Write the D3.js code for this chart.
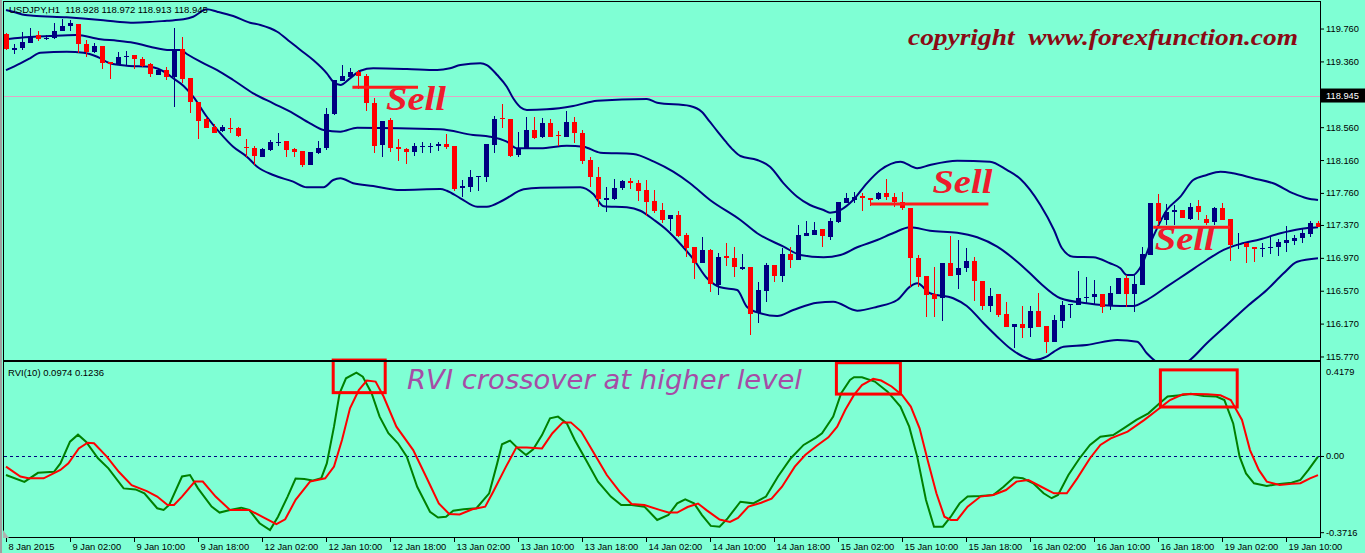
<!DOCTYPE html>
<html><head><meta charset="utf-8">
<script src="https://cdn.jsdelivr.net/npm/d3@7"></script>
<style>body{margin:0;background:#7fffd4;overflow:hidden} svg{display:block}</style>
</head><body><svg id="c" width="1365" height="553"></svg>
<script>
// ---------- DATA ----------
const opens=[119.693,119.499,119.519,119.588,119.681,119.636,119.641,119.734,119.794,119.815,
119.572,119.471,119.547,119.349,119.316,119.417,119.438,119.386,119.328,119.195,
119.255,119.174,119.507,119.162,118.863,118.659,118.566,118.517,118.554,118.554,
118.322,118.310,118.201,118.282,118.371,118.392,118.291,118.270,118.100,118.249,
118.303,118.717,119.125,119.167,119.235,119.182,118.850,118.343,118.647,118.319,
118.294,118.262,118.319,118.327,118.335,118.355,118.331,117.816,117.829,117.950,
117.957,118.343,118.675,118.659,118.221,118.303,118.526,118.437,118.607,118.465,
118.444,118.619,118.485,118.161,117.950,117.683,117.686,117.816,117.905,117.877,
117.796,117.662,117.552,117.439,117.491,117.248,117.099,116.911,117.066,116.640,
116.993,116.965,116.838,116.863,116.303,116.571,116.883,116.749,117.017,116.944,
117.236,117.248,117.318,117.228,117.410,117.641,117.674,117.723,117.695,117.683,
117.755,117.714,117.653,117.573,116.965,116.749,116.530,116.478,116.904,116.762,
116.843,116.932,116.692,116.388,116.527,116.287,116.125,116.166,116.113,116.324,
116.141,115.950,116.206,116.393,116.397,116.482,116.490,116.530,116.385,116.530,
116.729,116.530,116.640,117.005,117.634,117.431,117.528,117.552,117.443,117.601,
117.439,117.410,117.573,117.439,117.127,117.147,117.099,117.074,117.086,117.099,
117.147,117.179,117.208,117.260,117.398];
const highs=[119.706,119.572,119.718,119.766,119.730,119.681,119.824,119.872,119.864,119.815,
119.620,119.580,119.547,119.349,119.478,119.487,119.438,119.417,119.344,119.276,
119.296,119.763,119.661,119.162,118.863,118.687,118.599,118.586,118.668,118.566,
118.412,118.331,118.303,118.404,118.493,118.392,118.303,118.270,118.262,118.395,
118.797,119.134,119.316,119.276,119.255,119.207,118.911,118.639,118.668,118.412,
118.303,118.364,118.383,118.364,118.383,118.477,118.331,117.917,118.039,117.966,
118.355,118.696,118.842,118.659,118.505,118.680,118.680,118.668,118.659,118.513,
118.757,118.680,118.526,118.193,118.079,117.829,117.926,117.917,117.938,117.917,
117.917,117.796,117.634,117.491,117.544,117.273,117.102,117.220,117.078,117.029,
117.147,117.099,117.017,116.863,116.673,116.904,116.883,117.086,117.106,117.370,
117.419,117.410,117.318,117.451,117.653,117.755,117.775,117.755,117.695,117.775,
117.926,117.763,117.775,117.573,117.005,116.749,116.855,116.904,117.236,117.187,
117.086,116.984,116.692,116.600,116.527,116.437,116.166,116.385,116.385,116.539,
116.141,116.275,116.449,116.409,116.810,116.741,116.701,116.530,116.628,116.729,
116.762,116.770,117.106,117.634,117.747,117.625,117.613,117.552,117.641,117.674,
117.491,117.593,117.641,117.439,117.276,117.147,117.099,117.155,117.220,117.196,
117.358,117.248,117.318,117.422,117.422];
const lows=[119.499,119.450,119.499,119.584,119.612,119.620,119.633,119.734,119.734,119.459,
119.410,119.459,119.264,119.146,119.316,119.308,119.268,119.296,119.167,119.195,
119.134,118.809,119.094,118.729,118.412,118.546,118.485,118.505,118.493,118.444,
118.201,118.100,118.193,118.274,118.331,118.201,118.201,118.079,118.100,118.234,
118.282,118.708,119.125,119.167,119.021,118.760,118.242,118.201,118.262,118.152,
118.108,118.213,118.242,118.249,118.274,118.291,117.787,117.714,117.775,117.787,
117.897,118.249,118.546,118.201,118.193,118.303,118.412,118.425,118.444,118.335,
118.444,118.371,118.112,117.836,117.585,117.524,117.674,117.796,117.808,117.662,
117.479,117.512,117.398,117.300,117.224,116.981,116.717,116.908,116.555,116.518,
116.871,116.737,116.822,116.032,116.181,116.437,116.680,116.680,116.843,116.944,
117.236,117.248,117.106,117.187,117.398,117.641,117.634,117.544,117.601,117.674,
117.674,117.593,117.552,116.619,116.619,116.254,116.254,116.206,116.749,116.588,
116.802,116.449,116.336,116.315,116.254,116.125,115.870,115.992,116.004,116.133,
115.816,115.950,116.113,116.235,116.397,116.409,116.409,116.296,116.336,116.530,
116.376,116.315,116.640,117.005,117.370,117.370,117.370,117.451,117.431,117.431,
117.370,117.370,117.431,116.936,117.074,116.904,116.923,116.981,117.017,116.993,
117.045,117.127,117.147,117.220,117.342];
const closes=[119.511,119.523,119.600,119.673,119.633,119.648,119.730,119.794,119.824,119.568,
119.478,119.547,119.337,119.325,119.417,119.429,119.389,119.308,119.207,119.255,
119.174,119.499,119.146,118.863,118.639,118.546,118.493,118.558,118.538,118.452,
118.303,118.213,118.291,118.383,118.383,118.282,118.254,118.100,118.254,118.303,
118.717,119.134,119.182,119.235,119.182,118.850,118.335,118.639,118.310,118.291,
118.262,118.331,118.331,118.335,118.355,118.322,117.808,117.844,117.950,117.966,
118.355,118.659,118.656,118.213,118.310,118.526,118.432,118.607,118.444,118.452,
118.619,118.485,118.152,117.950,117.686,117.695,117.816,117.905,117.877,117.787,
117.653,117.540,117.430,117.491,117.240,117.094,116.911,117.066,116.648,116.984,
116.965,116.855,116.855,116.287,116.579,116.883,116.749,117.017,116.944,117.248,
117.269,117.309,117.236,117.422,117.653,117.695,117.714,117.695,117.674,117.755,
117.714,117.653,117.573,116.965,116.741,116.518,116.466,116.904,116.749,116.843,
116.936,116.692,116.388,116.506,116.275,116.125,116.166,116.113,116.324,116.133,
115.950,116.214,116.397,116.409,116.478,116.498,116.530,116.376,116.539,116.729,
116.530,116.648,117.017,117.634,117.422,117.528,117.552,117.451,117.585,117.532,
117.398,117.573,117.431,117.127,117.139,117.099,117.074,117.090,117.106,117.167,
117.187,117.208,117.269,117.398,117.342];

// Bollinger bands [bar, price]
const upperBand=[[0,119.985],[1,119.961],[2.4,119.925],[3.4,119.916],[7.6,119.897],[11.8,119.864],[13.9,119.843],[15.9,119.831],[18,119.839],[20.1,119.855],[22.2,119.872],[23.4,119.904],[25.1,119.994],[26.4,119.965],[28.4,119.912],[30.5,119.831],[31.8,119.803],[33.9,119.721],[35.5,119.600],[36.8,119.499],[38.4,119.377],[40.1,119.215],[40.9,119.113],[41.8,119.073],[43,119.154],[44.3,119.247],[45.9,119.276],[50.1,119.268],[53.9,119.255],[55.5,119.276],[56.8,119.316],[59.3,119.337],[60.1,119.316],[61.4,119.195],[62.6,119.052],[63.4,118.911],[64.3,118.802],[65.1,118.769],[67.6,118.777],[70.9,118.818],[73.9,118.882],[80.1,118.903],[81.4,118.858],[85.5,118.818],[87,118.744],[88,118.623],[89,118.501],[90,118.380],[90.9,118.282],[91.8,118.209],[93.9,118.161],[95.5,118.079],[97.2,117.877],[98.9,117.714],[100.5,117.613],[102.2,117.552],[103,117.520],[104.3,117.552],[105.9,117.674],[107.6,117.877],[109.3,118.039],[111.8,118.140],[113.9,118.060],[115.5,118.100],[118.9,118.152],[123,118.140],[125.1,118.039],[126.8,117.929],[129.3,117.613],[131,117.309],[132,117.086],[133.4,116.984],[135.9,116.977],[138,116.904],[139.3,116.843],[140.1,116.762],[140.9,116.762],[141.8,116.855],[143.4,117.228],[145.1,117.552],[146.8,117.714],[148.4,117.917],[150.1,117.978],[151.8,118.018],[153.4,117.999],[155.9,117.938],[158.4,117.877],[160.9,117.755],[162.6,117.695],[164,117.674]];
const middleBand=[[0,119.629],[1.8,119.648],[5.5,119.669],[8.8,119.681],[11.8,119.629],[13.9,119.612],[15.9,119.588],[18,119.539],[20.5,119.499],[21.8,119.499],[22.6,119.450],[24.3,119.356],[26.4,119.255],[28.4,119.134],[30.9,118.972],[33.4,118.850],[35.9,118.729],[38,118.607],[39.7,118.526],[41.8,118.505],[43.9,118.554],[54.3,118.534],[58.4,118.465],[60.5,118.444],[62.6,118.383],[63.9,118.303],[66.8,118.303],[70.1,118.335],[72.2,118.322],[74.3,118.249],[78.4,118.234],[81,118.140],[83.4,118.018],[85.5,117.877],[88,117.674],[91.8,117.431],[93.9,117.269],[97.2,117.106],[99.3,117.005],[102.2,116.977],[104.3,117.005],[106.4,117.099],[108.9,117.187],[111,117.276],[113,117.342],[115.5,117.300],[118.9,117.276],[121.4,117.220],[123.9,117.106],[126.4,116.923],[128,116.782],[129.3,116.660],[131.8,116.478],[135.1,116.417],[139.3,116.385],[140.9,116.385],[142.6,116.457],[145.1,116.619],[147.6,116.782],[150.1,116.944],[152.2,117.066],[154.3,117.139],[156.8,117.196],[159.3,117.269],[161.8,117.321],[164,117.342]];
const lowerBand=[[0,119.255],[1.8,119.337],[3,119.398],[4.3,119.466],[7.6,119.478],[9.7,119.466],[11.4,119.417],[13,119.337],[15.1,119.308],[18,119.296],[20.1,119.215],[20.9,119.155],[22.2,119.061],[23.4,118.931],[25.1,118.687],[26.8,118.485],[28.4,118.322],[30.1,118.201],[31.4,118.079],[33.4,117.978],[35.9,117.897],[37.6,117.829],[39.7,117.829],[40.9,117.917],[41.8,117.938],[43.4,117.877],[45.9,117.844],[49.3,117.796],[54.3,117.808],[55.1,117.787],[56.8,117.695],[58.9,117.593],[60.1,117.593],[62.2,117.674],[64.7,117.804],[66.8,117.824],[71.8,117.829],[73.4,117.747],[74.7,117.597],[77.6,117.585],[79.3,117.543],[81,117.431],[82.6,117.309],[84.3,117.139],[86,116.944],[87.6,116.725],[89.3,116.612],[91.4,116.579],[92.6,116.376],[94.3,116.296],[96.4,116.263],[98.4,116.336],[101.4,116.425],[103.4,116.437],[106.4,116.327],[108.9,116.376],[111.4,116.457],[113,116.619],[113.9,116.660],[115.5,116.539],[118.4,116.478],[120.1,116.385],[122.2,116.174],[123.9,116.011],[125.5,115.870],[127,115.776],[128.5,115.728],[130,115.764],[131,115.829],[132.2,115.889],[135.1,115.910],[138.9,115.971],[141.4,115.950],[142.6,115.809],[144,115.691],[146,115.630],[148,115.728],[150.1,115.931],[152.6,116.153],[155.1,116.376],[157.6,116.579],[159.7,116.782],[161.4,116.923],[164,116.965]];

// RVI(10) main (green) and signal (red) [bar, value]
const rviMain=[[0,-0.093],[2.3,-0.126],[4,-0.082],[6,-0.077],[6.8,-0.036],[8,0.070],[9,0.104],[10,0.070],[11.5,-0.011],[12.8,-0.06],[14.7,-0.158],[16.2,-0.163],[17.3,-0.182],[18.9,-0.255],[19.7,-0.263],[20.4,-0.239],[22,-0.1],[23,-0.093],[24,-0.158],[25.7,-0.247],[26.7,-0.276],[28,-0.263],[29.4,-0.252],[30.4,-0.263],[31.7,-0.328],[33,-0.361],[34,-0.296],[35.2,-0.198],[36.2,-0.11],[37.3,-0.112],[38.3,-0.12],[39.4,-0.109],[40.1,-0.036],[41,0.143],[41.7,0.306],[42.5,0.379],[43.8,0.407],[44.6,0.387],[45.7,0.306],[46.7,0.192],[47.8,0.111],[49,0.062],[50.1,-0.003],[51.4,-0.15],[53,-0.272],[54,-0.3],[55,-0.296],[55.9,-0.267],[57.2,-0.26],[58.8,-0.255],[60.4,-0.182],[61.4,-0.036],[62,0.057],[63,0.075],[64,0.037],[65,0.005],[65.9,0.033],[67,0.102],[68,0.184],[69,0.192],[70.1,0.159],[71.1,0.078],[72.5,-0.02],[74,-0.125],[75.6,-0.198],[76.9,-0.239],[78.2,-0.239],[79.8,-0.247],[81.4,-0.312],[82.8,-0.288],[83.9,-0.231],[84.9,-0.211],[86,-0.231],[87,-0.288],[88.1,-0.341],[89.2,-0.345],[90.2,-0.304],[91.8,-0.223],[93.4,-0.231],[95,-0.198],[96.5,-0.1],[98.1,-0.011],[99.7,0.054],[101.3,0.091],[102,0.111],[103.4,0.192],[104.4,0.306],[105.5,0.371],[106,0.384],[107,0.384],[108.6,0.363],[110.2,0.314],[111.8,0.241],[112.9,0.143],[113.9,-0.003],[115,-0.215],[116,-0.345],[117.1,-0.345],[118.1,-0.296],[119.2,-0.231],[120.2,-0.198],[121.8,-0.195],[123.4,-0.19],[124.7,-0.15],[126,-0.104],[127.1,-0.109],[128.4,-0.133],[129.7,-0.182],[130.7,-0.206],[131.5,-0.19],[132.8,-0.093],[134.2,-0.011],[135.5,0.054],[136.8,0.094],[138.4,0.102],[139.7,0.135],[141.3,0.176],[142.8,0.208],[144.2,0.257],[145.2,0.29],[147.1,0.298],[148.1,0.303],[149.7,0.293],[151.3,0.29],[152.3,0.273],[153.4,0.159],[154.2,-0.003],[155,-0.085],[156,-0.133],[157.6,-0.146],[159.2,-0.136],[160.7,-0.13],[161.8,-0.117],[162.8,-0.068],[164,-0.003]];
const rviSignal=[[0,-0.052],[1.8,-0.1],[2.8,-0.109],[4.7,-0.109],[6.8,-0.068],[7.8,-0.036],[9.1,0.037],[10.2,0.065],[11,0.062],[12.6,-0.003],[14.1,-0.077],[15.7,-0.142],[17.6,-0.171],[18.9,-0.198],[20.2,-0.239],[21,-0.239],[22,-0.198],[23.6,-0.125],[24.6,-0.125],[26.2,-0.198],[28,-0.263],[30.4,-0.263],[32,-0.296],[33.8,-0.332],[34.9,-0.309],[36.2,-0.214],[38,-0.125],[39.9,-0.109],[41,-0.052],[42,0.078],[43,0.233],[44.1,0.322],[45.1,0.368],[46.2,0.363],[47.2,0.29],[48.8,0.143],[50.9,0.029],[52.5,-0.1],[54.1,-0.231],[55.4,-0.283],[56.7,-0.285],[58.3,-0.26],[59.9,-0.247],[60.9,-0.174],[62.5,-0.052],[63.8,0.042],[65.1,0.042],[67,0.037],[68.3,0.111],[69.6,0.164],[70.6,0.164],[71.9,0.119],[73.5,0.013],[75.1,-0.093],[76.7,-0.174],[78.2,-0.234],[79.8,-0.239],[81.7,-0.263],[82.8,-0.276],[83.9,-0.276],[85.2,-0.249],[86.5,-0.232],[87.6,-0.265],[89.2,-0.31],[90.5,-0.322],[91.5,-0.302],[92.8,-0.247],[94.4,-0.228],[95.7,-0.208],[97,-0.15],[98.6,-0.052],[99.9,0.005],[101.3,0.049],[102.8,0.091],[103.9,0.143],[104.9,0.224],[106,0.298],[107,0.346],[108.4,0.376],[109.4,0.368],[110.7,0.339],[112,0.298],[113.1,0.241],[114.2,0.135],[115.2,-0.02],[116.3,-0.182],[117.3,-0.296],[118.1,-0.312],[118.9,-0.312],[120.2,-0.247],[121.8,-0.198],[123.4,-0.19],[125,-0.166],[126.3,-0.125],[127.8,-0.117],[129.4,-0.15],[131,-0.182],[132.6,-0.182],[133.9,-0.109],[135.5,-0.011],[136.8,0.054],[138.1,0.086],[140.2,0.119],[142.3,0.176],[143.9,0.224],[145.5,0.273],[147.1,0.301],[148.7,0.303],[150.2,0.301],[151.8,0.296],[153.1,0.273],[154.5,0.176],[155.5,0.029],[156.6,-0.068],[157.6,-0.125],[159.2,-0.141],[160.7,-0.136],[161.8,-0.133],[163,-0.109],[164,-0.093]];

const timeTickBars=[0,8,16,24,32,40,48,56,64,72,80,88,96,104,112,120,128,136,144,152,160];
const timeTickLabels=["8 Jan 2015","9 Jan 02:00","9 Jan 10:00","9 Jan 18:00","12 Jan 02:00","12 Jan 10:00","12 Jan 18:00","13 Jan 02:00","13 Jan 10:00","13 Jan 18:00","14 Jan 02:00","14 Jan 10:00","14 Jan 18:00","15 Jan 02:00","15 Jan 10:00","15 Jan 18:00","16 Jan 02:00","16 Jan 10:00","16 Jan 18:00","19 Jan 02:00","19 Jan 10:00"];
const priceTicks=[119.760,119.360,118.560,118.160,117.760,117.370,116.970,116.570,116.170,115.770];
const bidPrice=118.945;
const rviTicks=[0.4179,0,-0.3716];
const rviTickLabels=["0.4179","0.00","-0.3716"];
// sell annotations
const sellFrom=[43.3,108.0,143.4];
const sellTo=[51.5,122.8,153.0];
const sellPrice=[119.045,117.625,117.342];
const sellLabelBar=[47.5,115.8,143.6];
const sellLabelPrice=[118.769,117.759,117.066];
// RVI highlight boxes
const boxFrom=[40.9,103.8,144.3], boxTo=[47.4,111.8,153.9], boxTop=[0.468,0.455,0.42], boxBottom=[0.309,0.302,0.239];

// ---------- CHART ----------
const svg=d3.select("#c");
const L=4,R=1320,mT=1,mB=360,iT=362,iB=538;
const x=d3.scaleLinear().domain([0,164]).range([6,1318]);
const y=d3.scaleLinear().domain([115.715,120.095]).range([361,1]);
const yr=d3.scaleLinear().domain([-0.4,0.4585]).range([538,362]);
const NAVY="#000080", RED="#ff0000", GREEN="#008000";

svg.append("rect").attr("width",1365).attr("height",553).attr("fill","#7fffd4");
const defs=svg.append("defs");
defs.append("clipPath").attr("id","cm").append("rect").attr("x",L).attr("y",mT).attr("width",R-L).attr("height",mB-mT);
defs.append("clipPath").attr("id","ci").append("rect").attr("x",L).attr("y",iT).attr("width",R-L).attr("height",iB-iT);

const gm=svg.append("g").attr("clip-path","url(#cm)");
gm.append("line").attr("x1",L).attr("x2",R).attr("y1",Math.round(y(bidPrice))+0.5).attr("y2",Math.round(y(bidPrice))+0.5).attr("stroke","#e0a6c6").attr("stroke-width",1);
const bl=d3.line().x(d=>x(d[0])).y(d=>y(d[1])).curve(d3.curveMonotoneX);
[upperBand,middleBand,lowerBand].forEach(b=>gm.append("path").attr("d",bl(b)).attr("fill","none").attr("stroke",NAVY).attr("stroke-width",2));
const idx=d3.range(opens.length);
const cg=gm.append("g").attr("shape-rendering","crispEdges");
cg.selectAll("line").data(idx).join("line")
 .attr("x1",i=>Math.round(x(i))+0.5).attr("x2",i=>Math.round(x(i))+0.5)
 .attr("y1",i=>y(highs[i])).attr("y2",i=>y(lows[i]))
 .attr("stroke",i=>closes[i]>=opens[i]?NAVY:RED).attr("stroke-width",1);
cg.selectAll("rect").data(idx).join("rect")
 .attr("x",i=>Math.round(x(i))-2).attr("width",5)
 .attr("y",i=>y(Math.max(opens[i],closes[i])))
 .attr("height",i=>Math.max(1.5,Math.abs(y(opens[i])-y(closes[i]))))
 .attr("fill",i=>closes[i]>=opens[i]?NAVY:RED);
sellFrom.forEach((f,k)=>{
  gm.append("line").attr("x1",x(f)).attr("x2",x(sellTo[k])).attr("y1",y(sellPrice[k])).attr("y2",y(sellPrice[k]))
   .attr("stroke","#ff1a1a").attr("stroke-width",3);
  gm.append("text").attr("x",x(sellLabelBar[k])).attr("y",y(sellLabelPrice[k]))
   .attr("font-family","Liberation Serif").attr("font-style","italic").attr("font-weight","bold")
   .attr("font-size",34).attr("fill","#ee1c2c").attr("textLength",60).attr("lengthAdjust","spacingAndGlyphs").text("Sell");
});
svg.append("text").attr("x",908).attr("y",45).attr("font-family","Liberation Serif").attr("font-style","italic").attr("font-weight","bold")
 .attr("font-size",24).attr("fill","#8b0a14").attr("textLength",390).attr("lengthAdjust","spacingAndGlyphs")
 .style("white-space","pre").text("copyright  www.forexfunction.com");
svg.append("text").attr("x",9).attr("y",13).attr("font-family","Liberation Sans").attr("font-size",9.5).attr("fill","#000")
 .style("white-space","pre").text("USDJPY,H1  118.928 118.972 118.913 118.945");

// ---------- indicator ----------
const gi=svg.append("g").attr("clip-path","url(#ci)");
gi.append("line").attr("x1",L).attr("x2",R).attr("y1",Math.round(yr(0))+0.5).attr("y2",Math.round(yr(0))+0.5)
 .attr("stroke",NAVY).attr("stroke-dasharray","3,3").attr("stroke-width",1);
const rl=d3.line().x(d=>x(d[0])).y(d=>yr(d[1]));
gi.append("path").attr("d",rl(rviMain)).attr("fill","none").attr("stroke",GREEN).attr("stroke-width",2);
gi.append("path").attr("d",rl(rviSignal)).attr("fill","none").attr("stroke",RED).attr("stroke-width",2);
boxFrom.forEach((f,k)=>{
  svg.append("rect").attr("x",x(f)).attr("width",x(boxTo[k])-x(f)).attr("y",yr(boxTop[k])).attr("height",yr(boxBottom[k])-yr(boxTop[k]))
   .attr("fill","none").attr("stroke","#ff0000").attr("stroke-width",3);
});
svg.append("text").attr("x",8).attr("y",376).attr("font-family","Liberation Sans").attr("font-size",9.5).attr("fill","#000").text("RVI(10) 0.0974 0.1236");
svg.append("text").attr("x",407).attr("y",389).attr("font-family","DejaVu Sans").attr("font-style","italic")
 .attr("font-size",26).attr("fill","#a64ca6").attr("textLength",395).attr("lengthAdjust","spacingAndGlyphs").text("RVI crossover at higher level");

// ---------- frames ----------
svg.append("rect").attr("x",0).attr("y",0).attr("width",2).attr("height",553).attr("fill","#a0a0a0");
const fr=svg.append("g").attr("fill","none").attr("stroke","#000").attr("stroke-width",1).attr("shape-rendering","crispEdges");
fr.append("rect").attr("x",L-0.5).attr("y",mT).attr("width",R-L+1).attr("height",mB-mT);
fr.append("rect").attr("x",L-0.5).attr("y",iT-0.5).attr("width",R-L+1).attr("height",iB-iT);
svg.append("path").attr("d","M3,530 L3,538 L9,538 Z").attr("fill","#b0b0b0");

// ---------- axes ----------
const fontAx="Liberation Sans";
const ax=svg.append("g").attr("transform",`translate(${R},0)`)
 .call(d3.axisRight(y).tickValues(priceTicks).tickFormat(d3.format(".3f")).tickSize(4).tickSizeOuter(0));
ax.select(".domain").remove();
ax.selectAll("text").attr("font-family",fontAx).attr("font-size",9.3).attr("fill","#000").attr("x",6);
const bidY=y(bidPrice);
svg.append("rect").attr("x",R+1).attr("y",bidY-7).attr("width",44).attr("height",14).attr("fill","#000");
svg.append("text").attr("x",R+6).attr("y",bidY+3.5).attr("font-family",fontAx).attr("font-size",9.3).attr("fill","#fff").text(d3.format(".3f")(bidPrice));
svg.append("line").attr("x1",R).attr("x2",R+4).attr("y1",Math.round(bidY)+0.5).attr("y2",Math.round(bidY)+0.5).attr("stroke","#000");

const ar=svg.append("g").attr("transform",`translate(${R},0)`)
 .call(d3.axisRight(yr).tickValues(rviTicks).tickFormat((d,i)=>rviTickLabels[i]).tickSize(4).tickSizeOuter(0));
ar.select(".domain").remove();
ar.selectAll("text").attr("font-family",fontAx).attr("font-size",9.3).attr("fill","#000").attr("x",6);
ar.selectAll(".tick").filter(d=>d===0.4179).select("line").remove();
ar.selectAll(".tick").filter(d=>d===0.4179).select("text").attr("dy","0.9em").attr("y",-4);

const axb=svg.append("g").attr("transform",`translate(0,${iB})`)
 .call(d3.axisBottom(x).tickValues(timeTickBars).tickFormat((d,i)=>timeTickLabels[i]).tickSize(4).tickSizeOuter(0));
axb.select(".domain").remove();
axb.selectAll("text").attr("font-family",fontAx).attr("font-size",9.3).attr("fill","#000").attr("text-anchor","start").attr("x",2).attr("y",4).attr("dy","0.9em");
</script></body></html>
